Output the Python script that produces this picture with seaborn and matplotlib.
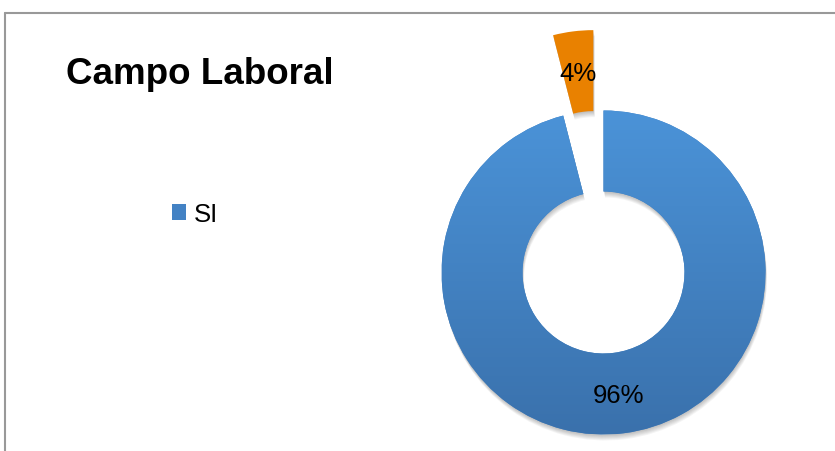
import numpy as np
import matplotlib
matplotlib.use("Agg")
import matplotlib.pyplot as plt
import seaborn as sns
from matplotlib.patches import Wedge
from matplotlib.lines import Line2D
from matplotlib.colors import LinearSegmentedColormap

# Data
categories = ["SI", "NO"]
shares = [96, 4]
legend_labels = ["SI"]
title = "Campo Laboral"

sns.set_theme(style="white")
plt.rcParams["font.family"] = ["Liberation Sans", "DejaVu Sans"]
plt.rcParams["text.color"] = "black"

blue_top = "#4B93D8"
blue_bottom = "#3A71AC"
blue_mid = "#4382C4"
orange = "#E98100"

W, H = 835, 452
fig = plt.figure(figsize=(W / 100, H / 100), dpi=100)
ax = fig.add_axes([0, 0, 1, 1])

# pixel scale of one radius and centre of the ring in pixels
scale = 162.0
cx_px, cy_px = 603.5, 273.5

wedges, texts, autotexts = ax.pie(
    shares,
    explode=[0, 0.5],
    colors=[blue_mid, orange],
    startangle=90,
    counterclock=False,
    radius=1,
    wedgeprops=dict(width=0.5, linewidth=0),
    autopct="%.0f%%",
    pctdistance=0.76,
    textprops=dict(fontsize=18.5, color="black"),
)

# soft drop shadow under each ring segment
for w in wedges:
    for d in [1.0, 2.0, 3.0, 4.0, 5.0, 6.0]:
        sh = Wedge((w.center[0] + 0.25 * d / scale, w.center[1] - d / scale),
                   w.r, w.theta1, w.theta2, width=w.width,
                   facecolor="black", alpha=0.045, linewidth=0, zorder=0.5)
        ax.add_patch(sh)

# vertical gradient on the large segment
cmap = LinearSegmentedColormap.from_list("ring", [blue_bottom, blue_top])
grad = np.linspace(0, 1, 256).reshape(-1, 1)
im = ax.imshow(grad, extent=(-1, 1, -1, 1), origin="lower", cmap=cmap,
               aspect="auto", zorder=1.05, interpolation="bilinear")
im.set_clip_path(wedges[0])

for t in autotexts:
    t.set_zorder(5)
# small segment label sits a little lower inside its wedge
x4, y4 = autotexts[1].get_position()
autotexts[1].set_position((x4, y4 - 3.5 / scale))

ax.set_aspect("auto")
ax.set_xlim(-cx_px / scale, (W - cx_px) / scale)
ax.set_ylim(-(H - cy_px) / scale, cy_px / scale)
ax.axis("off")

leg = ax.legend([wedges[0]], legend_labels, loc="center left",
                bbox_to_anchor=(172 / W, 1 - 215 / H), bbox_transform=fig.transFigure,
                frameon=False, fontsize=18.5, handlelength=0.56, handleheight=0.56,
                handletextpad=0.3, borderpad=0, borderaxespad=0)
for t in leg.get_texts():
    t.set_color("black")

fig.text(66 / W, 1 - 83.5 / H, title, fontsize=26.5, fontweight="bold",
         va="baseline", ha="left", color="black")

# chart frame (top and left edges)
fig.add_artist(Line2D([5 / W, 1], [1 - 14 / H, 1 - 14 / H], transform=fig.transFigure,
                      color="#999999", lw=1.5))
fig.add_artist(Line2D([5 / W, 5 / W], [0, 1 - 14 / H], transform=fig.transFigure,
                      color="#999999", lw=1.5))

fig.savefig("out.png", dpi=100)
